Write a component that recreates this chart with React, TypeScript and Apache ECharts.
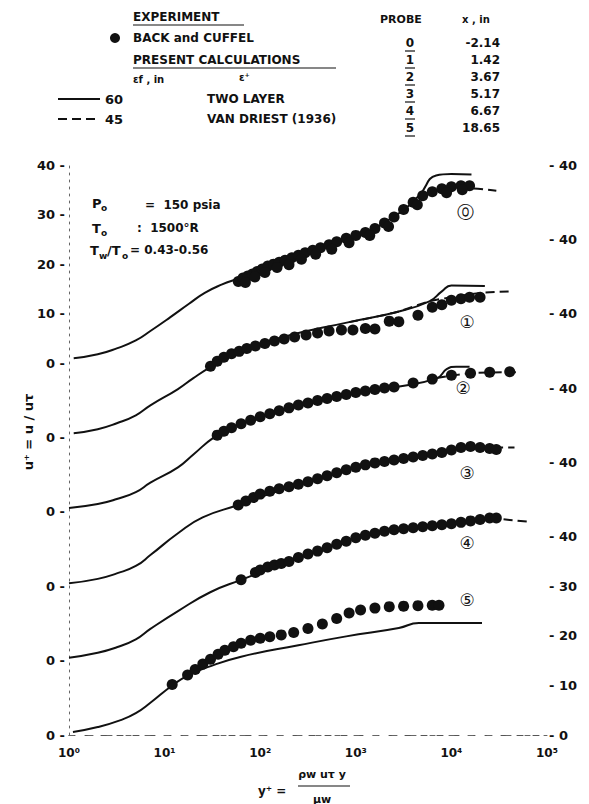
import React, { useEffect, useRef } from 'react';
import * as echarts from 'echarts';

// vertical shift (in u+ units) applied to each probe's profile
const offsets = [75, 60, 45, 30, 15, 0];
const probeMarks = ['⓪', '①', '②', '③', '④', '⑤'];
const probeNames = ['0', '1', '2', '3', '4', '5'];
const probeX = ['-2.14', '1.42', '3.67', '5.17', '6.67', '18.65'];

const leftTickText: Record<number, string> = { 115: '40', 105: '30', 95: '20', 85: '10', 75: '0', 60: '0', 45: '0', 30: '0', 15: '0', 0: '0' };
const rightTickText: Record<number, string> = { 115: '40', 100: '40', 85: '40', 70: '40', 55: '40', 40: '40', 30: '30', 20: '20', 10: '10', 0: '0' };
const xTickText = ['10⁰', '10¹', '10²', '10³', '10⁴', '10⁵'];

// [y+, u+] — two layer model (solid)
const twoLayer0 = [[1.12, 1.0], [2.0, 1.8], [3.16, 3.0], [5.0, 4.6], [7.1, 6.5], [11.5, 9.3], [18, 12.0], [26.3, 14.2], [40, 15.9], [58.9, 17.1], [120, 19.4], [251, 22.0], [1000, 25.6], [2512, 29.6], [4571, 33.8], [6918, 37.9], [10000, 38.2], [16220, 38.1]];
const twoLayer1 = [[1.12, 0.9], [2.0, 1.7], [3.16, 2.9], [5.0, 4.5], [7.1, 6.5], [13.8, 9.8], [20, 12.0], [30.2, 14.2], [60, 17.3], [166, 20.2], [851, 23.3], [2630, 25.3], [5888, 27.5], [7943, 29.5], [10000, 30.7], [22390, 30.6]];
const twoLayer2 = [[1, 0.8], [2.0, 1.6], [3.16, 2.6], [5.0, 4.0], [7.1, 5.9], [13.8, 9.0], [20, 11.6], [33.1, 15.1], [55, 17.4], [100, 19.2], [1000, 24.1], [2630, 25.2], [7079, 27.0], [8913, 28.8], [11220, 29.3], [15490, 29.3]];
const twoLayer3 = [[1, 0.6], [2.0, 1.5], [3.16, 2.6], [5.0, 4.1], [7.1, 6.3], [13.8, 10.7], [25, 13.9], [58.9, 16.4], [251, 20.6], [1000, 24.0], [3162, 25.8], [10000, 27.5], [19950, 28.0]];
const twoLayer4 = [[1, 0.6], [2.0, 1.6], [3.16, 2.7], [5.0, 4.3], [7.1, 6.4], [13.8, 10.0], [30, 13.8], [63.1, 16.3], [200, 20.0], [1000, 24.8], [3162, 26.6], [10000, 27.6], [25120, 28.8]];
const twoLayer5 = [[1.1, 0.6], [2.0, 1.6], [3.47, 3.0], [5.0, 4.4], [7.1, 6.5], [12.0, 10.0], [17.4, 12.0], [28.2, 13.7], [63.1, 15.8], [251, 18.1], [794, 19.9], [2818, 21.6], [4571, 22.6], [20890, 22.6]];

// [y+, u+] — Van Driest model (dashed), drawn where it leaves the solid curve
const vanDriest0 = [[4571, 33.8], [7943, 35.0], [15850, 35.3], [29510, 34.8]];
const vanDriest1 = [[851, 23.3], [2630, 25.3], [5888, 27.5], [10000, 28.3], [19950, 29.2], [40740, 29.5]];
const vanDriest2 = [[7079, 27.0], [15850, 28.0], [52480, 28.2]];
const vanDriest3 = [[19950, 28.0], [45710, 28.0]];
const vanDriest4 = [[25120, 28.8], [66070, 28.0]];
const vanDriest5: number[][] = [];

// [y+, u+] — experiment, Back and Cuffel
const exp0 = [[59, 16.5], [66, 17.2], [74, 17.6], [83, 18.0], [93, 18.5], [105, 19.0], [120, 19.6], [138, 20.0], [158, 20.4], [182, 20.8], [214, 21.3], [251, 21.8], [295, 22.3], [355, 22.8], [427, 23.3], [525, 23.9], [631, 24.5], [794, 25.2], [1000, 25.8], [1259, 26.4], [1585, 27.2], [1995, 28.3], [2512, 29.5], [3162, 31.0], [3981, 32.5], [5012, 33.8], [6310, 34.6], [7943, 35.2], [10000, 35.6], [12590, 35.8], [15490, 35.8],
  [70, 16.3], [88, 17.4], [112, 18.3], [150, 19.3], [200, 19.9], [270, 21.0], [380, 22.0], [560, 23.0], [850, 24.3], [1400, 25.8], [2200, 27.6], [4400, 32.0], [8900, 34.4], [13000, 35.0]];
const exp1 = [[30.2, 14.4], [35.5, 15.4], [41.7, 16.2], [50.1, 16.9], [60.3, 17.4], [72.4, 18.0], [89.1, 18.5], [112, 19.0], [141, 19.5], [178, 19.9], [229, 20.3], [302, 20.7], [398, 21.1], [525, 21.5], [708, 21.7], [933, 21.7], [1259, 22.0], [1585, 21.9], [2239, 23.5], [2818, 23.4], [4467, 24.7], [6310, 26.3], [7943, 26.8], [10000, 27.7], [12590, 28.0], [15490, 28.3], [19950, 28.3]];
const exp2 = [[35.5, 15.5], [41.7, 16.3], [50.1, 17.0], [63.1, 17.8], [79.4, 18.5], [100, 19.2], [126, 19.8], [158, 20.4], [200, 21.0], [251, 21.6], [316, 22.0], [398, 22.5], [501, 22.9], [631, 23.3], [794, 23.7], [1000, 24.1], [1259, 24.4], [1585, 24.7], [1995, 25.0], [2512, 25.2], [3981, 26.0], [6310, 26.8], [10000, 27.6], [15850, 28.0], [25120, 28.2], [40740, 28.3]];
const exp3 = [[58.9, 16.4], [70.8, 17.2], [85.1, 17.9], [100, 18.6], [126, 19.2], [158, 19.7], [200, 20.1], [251, 20.6], [316, 21.1], [398, 21.7], [501, 22.3], [631, 22.9], [794, 23.5], [1000, 24.0], [1259, 24.5], [1585, 24.9], [1995, 25.2], [2512, 25.5], [3162, 25.8], [3981, 26.1], [5012, 26.4], [6310, 26.7], [7943, 27.0], [10000, 27.5], [12590, 28.0], [15850, 28.2], [19950, 28.0], [25120, 27.8], [29510, 27.6]];
const exp4 = [[63.1, 16.3], [89.1, 17.8], [100, 18.3], [120, 18.9], [141, 19.3], [166, 19.6], [200, 20.0], [251, 20.8], [316, 21.5], [398, 22.1], [501, 22.8], [631, 23.5], [794, 24.1], [1000, 24.8], [1259, 25.3], [1585, 25.7], [1995, 26.1], [2512, 26.4], [3162, 26.6], [3981, 26.8], [5012, 27.0], [6310, 27.2], [7943, 27.4], [10000, 27.6], [12590, 27.9], [15850, 28.2], [19950, 28.5], [25120, 28.8], [29510, 28.8]];
const exp5 = [[12.0, 10.2], [17.4, 12.1], [20.9, 13.2], [25.1, 14.3], [30.2, 15.3], [36.3, 16.3], [42.7, 17.1], [52.5, 17.8], [63.1, 18.5], [79.4, 19.1], [100, 19.5], [126, 19.8], [166, 20.2], [224, 20.7], [316, 21.5], [447, 22.4], [631, 23.5], [851, 24.6], [1122, 25.2], [1585, 25.6], [2239, 25.9], [3162, 26.0], [4467, 26.1], [6310, 26.2], [7413, 26.2]];

const twoLayer = [twoLayer0, twoLayer1, twoLayer2, twoLayer3, twoLayer4, twoLayer5];
const vanDriest = [vanDriest0, vanDriest1, vanDriest2, vanDriest3, vanDriest4, vanDriest5];
const experiment = [exp0, exp1, exp2, exp3, exp4, exp5];

const INK = '#111111';
const FONT = '"DejaVu Sans", "Liberation Sans", sans-serif';

function shift(arr: number[][], off: number) {
  return arr.map(([x, u]) => [x, u + off]);
}

function txt(x: number, y: number, text: string, size = 12, extra: any = {}) {
  return {
    type: 'text', x, y, z: 10,
    style: { text, fill: INK, fontSize: size, fontFamily: FONT, fontWeight: 'bold', textAlign: 'left', textVerticalAlign: 'middle', ...extra },
  };
}
function seg(x1: number, y1: number, x2: number, y2: number, w = 1.5, dash: any = null) {
  return { type: 'line', z: 10, shape: { x1, y1, x2, y2 }, style: { stroke: INK, lineWidth: w, lineDash: dash } };
}

export default function App() {
  const ref = useRef<HTMLDivElement>(null);
  useEffect(() => {
    if (!ref.current) return;
    const chart = echarts.init(ref.current, null, { renderer: 'svg' });

    const series: any[] = [];
    for (let i = 0; i < 6; i++) {
      series.push({
        type: 'line', data: shift(twoLayer[i], offsets[i]), showSymbol: false, smooth: 0.5,
        lineStyle: { color: INK, width: 2 }, z: 3, silent: true,
      });
      if (vanDriest[i].length) {
        series.push({
          type: 'line', data: shift(vanDriest[i], offsets[i]), showSymbol: false, smooth: 0.3,
          lineStyle: { color: INK, width: 2, type: [9, 5] }, z: 3, silent: true,
        });
      }
      series.push({
        type: 'scatter', data: shift(experiment[i], offsets[i]), symbolSize: 11,
        itemStyle: { color: INK, opacity: 1 }, z: 4, silent: true,
      });
    }

    const graphic: any[] = [
      // legend
      txt(133, 17, 'EXPERIMENT', 12),
      seg(133, 25, 244, 25, 1.2),
      { type: 'circle', z: 10, shape: { cx: 115, cy: 38, r: 5 }, style: { fill: INK } },
      txt(133, 38, 'BACK and CUFFEL', 12),
      txt(133, 60, 'PRESENT CALCULATIONS', 12),
      seg(133, 68, 336, 68, 1.2),
      txt(133, 79, 'εf , in', 10),
      txt(239, 77, 'ε⁺', 10),
      seg(58, 99, 100, 99, 2),
      txt(105, 99, '60', 13),
      txt(207, 99, 'TWO LAYER', 12),
      seg(58, 119, 100, 119, 2, [9, 5]),
      txt(105, 119, '45', 13),
      txt(207, 119, 'VAN DRIEST (1936)', 12),
      txt(380, 19, 'PROBE', 11),
      txt(462, 19, 'x , in', 10),
      // conditions
      txt(92, 203, 'P', 13), txt(101, 208, 'o', 9), txt(145, 205, '=  150 psia', 12),
      txt(92, 228, 'T', 13), txt(101, 233, 'o', 9), txt(137, 228, ':  1500°R', 12),
      txt(90, 250, 'T', 13), txt(99, 256, 'w', 9), txt(107, 250, '/T', 13), txt(122, 256, 'o', 9), txt(130, 250, '= 0.43-0.56', 12),
      // axis titles
      { type: 'text', x: 28, y: 432, rotation: Math.PI / 2, z: 10,
        style: { text: 'u⁺ = u / uτ', fill: INK, fontSize: 13, fontFamily: FONT, fontWeight: 'bold', textAlign: 'center', textVerticalAlign: 'middle' } },
      txt(258, 791, 'y⁺ =', 12),
      txt(322, 774, 'ρw uτ y', 11, { textAlign: 'center' }),
      seg(298, 786, 350, 786, 1.2),
      txt(322, 799, 'μw', 11, { textAlign: 'center' }),
    ];
    for (let i = 0; i < 6; i++) {
      const y = 43 + i * 17;
      graphic.push(txt(410, y, probeNames[i], 12, { textAlign: 'center' }));
      graphic.push(seg(405, y + 8, 415, y + 8, 1.2));
      graphic.push(txt(500, y, probeX[i], 12, { textAlign: 'right' }));
    }
    const markPos = [[465, 212], [467, 322], [463, 388], [467, 473], [467, 543], [467, 600]];
    for (let i = 0; i < 6; i++) {
      graphic.push(txt(markPos[i][0], markPos[i][1], probeMarks[i], 17, { textAlign: 'center', fontWeight: 'normal' }));
    }

    chart.setOption({
      animation: false,
      backgroundColor: '#ffffff',
      grid: { left: 69, right: 42, top: 165, bottom: 69 },
      xAxis: [
        {
          type: 'log', logBase: 10, min: 1, max: 100000, position: 'bottom',
          axisLine: { show: true, lineStyle: { color: '#555', width: 1, type: [6, 10] } },
          axisTick: { show: false }, splitLine: { show: false },
          axisLabel: {
            margin: 12, color: INK, fontSize: 12, fontFamily: FONT, fontWeight: 'bold',
            formatter: (v: number) => xTickText[Math.round(Math.log10(v))] ?? '',
          },
        },
        {
          type: 'log', logBase: 10, min: 1, max: 100000, position: 'top',
          axisLine: { show: true, lineStyle: { color: '#666', width: 1, type: [5, 14] } },
          axisTick: { show: false }, splitLine: { show: false }, axisLabel: { show: false },
        },
      ],
      yAxis: [
        {
          type: 'value', min: 0, max: 115, interval: 5, position: 'left',
          axisLine: { show: true, lineStyle: { color: '#666', width: 1, type: [2, 5] } },
          axisTick: { show: false }, splitLine: { show: false },
          axisLabel: {
            margin: 4, color: INK, fontSize: 13, fontFamily: FONT, fontWeight: 'bold',
            formatter: (v: number) => { const s = leftTickText[Math.round(v)]; return s !== undefined ? s + ' -' : ''; },
          },
        },
        {
          type: 'value', min: 0, max: 115, interval: 5, position: 'right',
          axisLine: { show: false }, axisTick: { show: false }, splitLine: { show: false },
          axisLabel: {
            margin: 2, color: INK, fontSize: 13, fontFamily: FONT, fontWeight: 'bold',
            formatter: (v: number) => { const s = rightTickText[Math.round(v)]; return s !== undefined ? '- ' + s : ''; },
          },
        },
      ],
      series,
      graphic: { elements: graphic },
    });
    return () => chart.dispose();
  }, []);
  return <div ref={ref} style={{ position: 'absolute', left: 0, top: 0, width: 589, height: 804, background: '#fff' }} />;
}
